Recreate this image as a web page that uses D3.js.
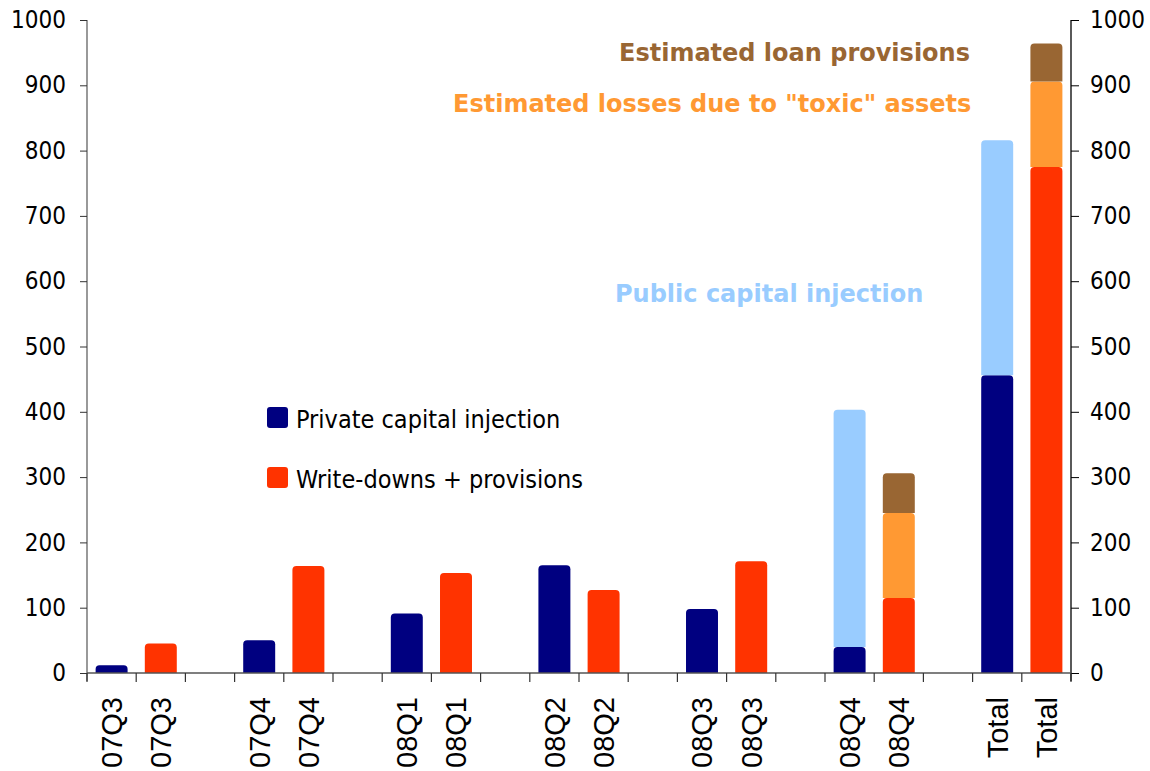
<!DOCTYPE html>
<html>
<head>
<meta charset="utf-8">
<script src="https://cdn.jsdelivr.net/npm/d3@7"></script>
<style>
  html, body { margin: 0; padding: 0; background: #fff; }
  svg { display: block; }
</style>
</head>
<body>
<svg id="chart" width="1150" height="771"></svg>
<script>
// Quarterly bank capital raised vs. losses recognised (USD bn)
const quarters = ["07Q3", "07Q4", "08Q1", "08Q2", "08Q3", "08Q4", "Total"];
const privateCapital = [12, 50, 91, 165, 98, 40, 456];
const publicCapital = [0, 0, 0, 0, 0, 363, 360];
const writeDowns = [45, 164, 153, 127, 171, 115, 775];
const toxicLosses = [0, 0, 0, 0, 0, 130, 131];
const loanProvisions = [0, 0, 0, 0, 0, 61, 58];
const yTicks = [0, 100, 200, 300, 400, 500, 600, 700, 800, 900, 1000];

const seriesNames = {
  private: "Private capital injection",
  writeDowns: "Write-downs + provisions",
  public: "Public capital injection",
  toxic: "Estimated losses due to \"toxic\" assets",
  loan: "Estimated loan provisions"
};

const colors = {
  private: "#000080",
  public: "#99CCFF",
  writeDowns: "#FF3300",
  toxic: "#FF9933",
  loan: "#996633"
};

const svg = d3.select("#chart");
const plot = { left: 87, right: 1071, top: 20, bottom: 673 };

// Three slots per quarter: capital bar, loss bar, gap (no gap after Total)
const slotCount = quarters.length * 3 - 1;
const slotLabels = [];
quarters.forEach((q, i) => {
  slotLabels.push(q, q);
  if (i < quarters.length - 1) slotLabels.push("");
});

const x = d3.scaleBand()
  .domain(d3.range(slotCount))
  .range([plot.left, plot.right])
  .paddingInner(0.35)
  .paddingOuter(0.175);

const xEdge = d3.scaleLinear().domain([0, slotCount]).range([plot.left, plot.right]);

const y = d3.scaleLinear().domain([0, 1000]).range([plot.bottom, plot.top]);

// Rectangle with gently rounded top corners
function roundTop(x0, y0, w, h, r) {
  r = Math.min(r, h / 2, w / 2);
  return `M${x0},${y0 + h}V${y0 + r}Q${x0},${y0} ${x0 + r},${y0}` +
         `H${x0 + w - r}Q${x0 + w},${y0} ${x0 + w},${y0 + r}V${y0 + h}Z`;
}

// Build stacked segments
const segments = [];
quarters.forEach((q, i) => {
  const capSlot = i * 3, lossSlot = i * 3 + 1;
  const capStack = [
    { key: "private", v: privateCapital[i] },
    { key: "public", v: publicCapital[i] }
  ];
  const lossStack = [
    { key: "writeDowns", v: writeDowns[i] },
    { key: "toxic", v: toxicLosses[i] },
    { key: "loan", v: loanProvisions[i] }
  ];
  [[capSlot, capStack], [lossSlot, lossStack]].forEach(([slot, stack]) => {
    let base = 0;
    stack.forEach(s => {
      if (s.v > 0) segments.push({ slot, key: s.key, y0: base, y1: base + s.v });
      base += s.v;
    });
  });
});

svg.append("g")
  .selectAll("path")
  .data(segments)
  .join("path")
  .attr("d", d => roundTop(x(d.slot), y(d.y1), x.bandwidth(), y(d.y0) - y(d.y1), 4))
  .attr("fill", d => colors[d.key]);

// Left value axis
const tickFont = "'DejaVu Sans Condensed', 'DejaVu Sans', sans-serif";
const leftAxis = svg.append("g")
  .attr("transform", `translate(${plot.left},0)`)
  .call(d3.axisLeft(y).tickValues(yTicks).tickSize(7).tickPadding(14).tickFormat(d3.format("d")));
leftAxis.select(".domain").attr("stroke", "#808080").attr("stroke-width", 1.6).attr("d", `M0,${plot.top}V${plot.bottom + 8}`);
leftAxis.selectAll(".tick line").attr("stroke", "#333");
leftAxis.selectAll(".tick text").attr("font-family", tickFont).attr("font-size", 24).attr("fill", "#000");

// Right value axis
const rightAxis = svg.append("g")
  .attr("transform", `translate(${plot.right},0)`)
  .call(d3.axisRight(y).tickValues(yTicks).tickSize(8).tickPadding(11).tickFormat(d3.format("d")));
rightAxis.select(".domain").attr("stroke", "#000").attr("stroke-width", 1.3).attr("d", `M0,${plot.top}V${plot.bottom + 8}`);
rightAxis.selectAll(".tick line").attr("stroke", "#000");
rightAxis.selectAll(".tick text").attr("font-family", tickFont).attr("font-size", 24).attr("fill", "#000");

// Category axis: baseline, separators between slots, rotated labels
const bottom = svg.append("g");
bottom.append("line")
  .attr("x1", plot.left).attr("x2", plot.right)
  .attr("y1", plot.bottom).attr("y2", plot.bottom)
  .attr("stroke", "#555").attr("stroke-width", 1.3);
bottom.selectAll("line.sep")
  .data(d3.range(slotCount + 1))
  .join("line")
  .attr("class", "sep")
  .attr("x1", d => xEdge(d)).attr("x2", d => xEdge(d))
  .attr("y1", plot.bottom).attr("y2", plot.bottom + 9)
  .attr("stroke", "#333").attr("stroke-width", 1.2);
bottom.selectAll("text")
  .data(slotLabels.map((l, i) => ({ l, i })).filter(d => d.l !== ""))
  .join("text")
  .attr("transform", d => `translate(${x(d.i) + x.bandwidth() / 2},697) rotate(-90)`)
  .attr("text-anchor", "end")
  .attr("dy", "0.36em")
  .attr("font-family", "'Liberation Sans', Arial, sans-serif")
  .attr("font-size", 29)
  .attr("fill", "#000")
  .text(d => d.l);

// Legend for the quarterly series
const legendFont = "'DejaVu Sans Condensed', 'DejaVu Sans', sans-serif";
const legendItems = [
  { key: "private", y: 407 },
  { key: "writeDowns", y: 467 }
];
const legend = svg.append("g");
legendItems.forEach(it => {
  legend.append("rect")
    .attr("x", 267).attr("y", it.y).attr("width", 21).attr("height", 21)
    .attr("rx", 3).attr("fill", colors[it.key]);
  legend.append("text")
    .attr("x", 296).attr("y", it.y + 21)
    .attr("font-family", legendFont).attr("font-size", 25).attr("fill", "#000")
    .text(seriesNames[it.key]);
});

// Labels for the estimated / public components
const notes = [
  { key: "loan", x: 619, y: 61 },
  { key: "toxic", x: 453, y: 112 },
  { key: "public", x: 615, y: 302 }
];
svg.append("g")
  .selectAll("text")
  .data(notes)
  .join("text")
  .attr("x", d => d.x).attr("y", d => d.y)
  .attr("font-family", "'DejaVu Sans', sans-serif")
  .attr("font-weight", "bold")
  .attr("font-size", 24)
  .attr("fill", d => colors[d.key])
  .text(d => seriesNames[d.key]);
</script>
</body>
</html>
